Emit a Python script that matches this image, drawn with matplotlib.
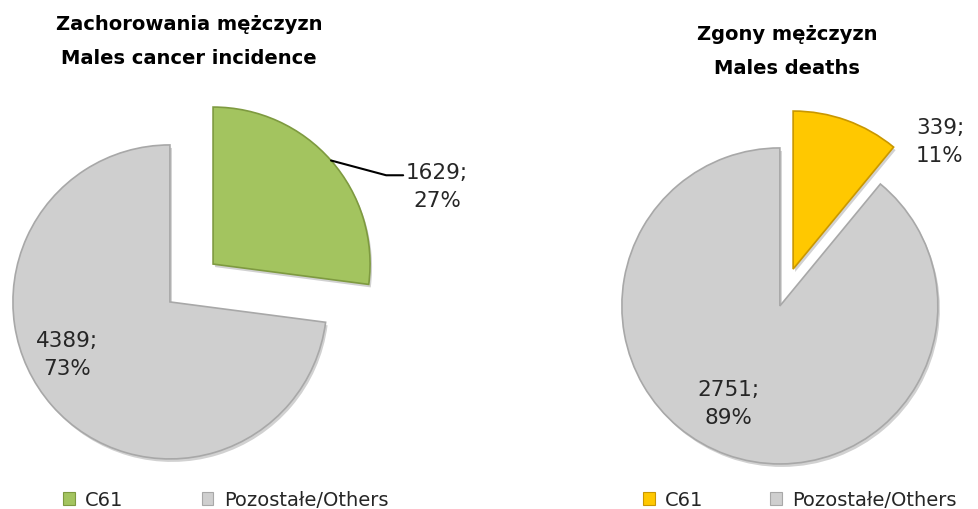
import matplotlib
matplotlib.use("Agg")
import matplotlib.pyplot as plt
import numpy as np
from matplotlib.patches import Patch

# dane: zachorowania i zgony mezczyzn (C61 vs pozostale)
kategorie = ["C61", "Pozostałe/Others"]
zachorowania = [1629, 4389]
zgony = [339, 2751]
tytul_lewy = "Zachorowania mężczyzn\nMales cancer incidence"
tytul_prawy = "Zgony mężczyzn\nMales deaths"

kolory_lewy = ["#A3C45F", "#CFCFCF"]
kolory_prawy = ["#FFC800", "#CFCFCF"]
krawedz_lewy = ["#7E9A40", "#A8A8A8"]
krawedz_prawy = ["#C99700", "#A8A8A8"]

W, H = 979, 510
fig = plt.figure(figsize=(W / 100, H / 100), dpi=100)
ax = fig.add_axes([0, 0, 1, 1])


def kolo(wartosci, srodek, r, wysun, kolory, krawedzie):
    # cien pod wycinkami
    ax.pie(wartosci, center=(srodek[0] + 2, srodek[1] - 3), radius=r,
           explode=[wysun, wysun], startangle=90, counterclock=False,
           colors=["#000000"] * 2, wedgeprops=dict(alpha=0.18, linewidth=0))
    wedges, _ = ax.pie(wartosci, center=srodek, radius=r,
                       explode=[wysun, wysun], startangle=90, counterclock=False,
                       colors=kolory, wedgeprops=dict(linewidth=1.2))
    for w, k in zip(wedges, krawedzie):
        w.set_edgecolor(k)
    return wedges


def etykieta(v, suma):
    return f"{v};\n{round(100 * v / suma)}%"


# lewy wykres
sl = (191.5, 226)
wl = kolo(zachorowania, sl, 157, 28.7, kolory_lewy, krawedz_lewy)
suma_l = sum(zachorowania)
# linia odniesienia od luku zielonego wycinka do etykiety
w0 = wl[0]
tm = np.deg2rad((w0.theta1 + w0.theta2) / 2)
px = w0.center[0] + w0.r * np.cos(tm)
py = w0.center[1] + w0.r * np.sin(tm)
ax.annotate(etykieta(zachorowania[0], suma_l), xy=(px, py), xytext=(437, 323),
            ha="center", va="center", fontsize=15.5, color="#262626",
            linespacing=1.55,
            arrowprops=dict(arrowstyle="-", color="black", lw=1.5,
                            shrinkA=0, shrinkB=0, relpos=(0, 0.72),
                            connectionstyle="angle,angleA=0,angleB=-15,rad=0"))
ax.text(67, 155, etykieta(zachorowania[1], suma_l), ha="center", va="center",
        fontsize=15.5, color="#262626", linespacing=1.55)
ax.text(189, 469, tytul_lewy, ha="center", va="center", fontsize=14,
        fontweight="bold", linespacing=2.0)

# prawy wykres
sp = (786.5, 221.5)
kolo(zgony, sp, 158, 19.6, kolory_prawy, krawedz_prawy)
suma_p = sum(zgony)
ax.text(940, 368, etykieta(zgony[0], suma_p), ha="center", va="center",
        fontsize=15.5, color="#262626", linespacing=1.55)
ax.text(728, 106, etykieta(zgony[1], suma_p), ha="center", va="center",
        fontsize=15.5, color="#262626", linespacing=1.55)
ax.text(787, 459, tytul_prawy, ha="center", va="center", fontsize=14,
        fontweight="bold", linespacing=2.0)

ax.set_xlim(0, W)
ax.set_ylim(0, H)
ax.set_aspect("auto")
ax.axis("off")

# legendy
for kol, kraw, x0, odstep in [(kolory_lewy, krawedz_lewy, 63, 4.0),
                              (kolory_prawy, krawedz_prawy, 643, 3.4)]:
    uchwyty = [Patch(facecolor=c, edgecolor=e, linewidth=0.8) for c, e in zip(kol, kraw)]
    fig.legend(uchwyty, kategorie, loc="center left",
               bbox_to_anchor=(x0 / W, 9 / H), ncol=2, frameon=False,
               fontsize=14, handlelength=0.6, handleheight=0.6,
               handletextpad=0.55, columnspacing=odstep, borderpad=0,
               borderaxespad=0, labelcolor="#262626")

fig.savefig("out.png", dpi=100)
